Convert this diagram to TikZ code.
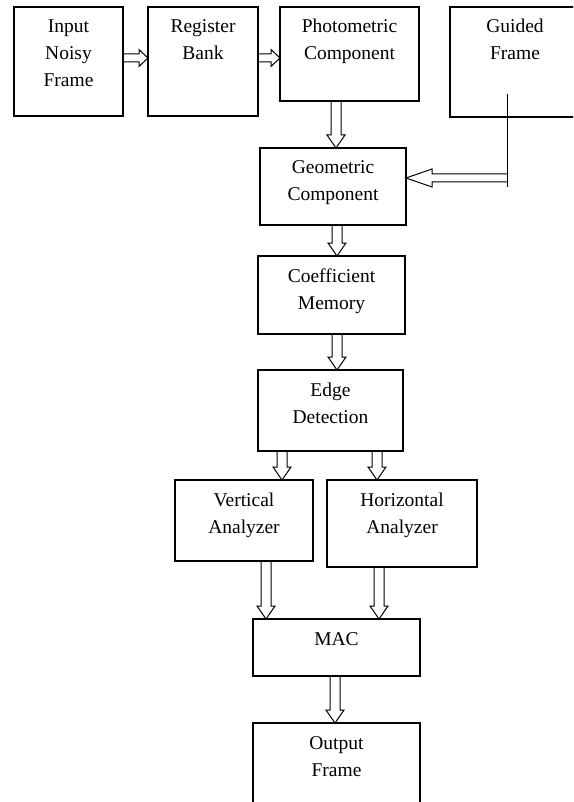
\documentclass[tikz,border=0pt]{standalone}
\usepackage{fontspec}
\setmainfont{Liberation Serif}
\usetikzlibrary{calc}
\newcommand\bxtxt[3]{\parbox[c][#2][t]{#1}{\centering\rule{0pt}{26pt}#3}}
\tikzset{
  blk/.style={draw, line width=1.3pt, inner sep=0pt, outer sep=0pt, anchor=north west,
    font=\fontsize{19.5pt}{27pt}\selectfont},
  arr/.style={line width=1pt},
  hollow/.style n args={3}{to path={
    let \p1=(\tikztostart), \p2=(\tikztotarget),
        \p3=($(\p2)!#3!(\p1)$) in
    ($(\p1)!#1!90:(\p2)$) -- ($(\p3)!#1!90:(\p2)$) -- ($(\p3)!#2!90:(\p2)$) -- (\p2)
    -- ($(\p3)!#2!-90:(\p2)$) -- ($(\p3)!#1!-90:(\p2)$) -- ($(\p1)!#1!-90:(\p2)$)
  }},
  harr/.style={arr, hollow={4pt}{8.5pt}{9pt}},
  varr/.style={arr, hollow={5pt}{9pt}{13pt}}
}
\begin{document}
\begin{tikzpicture}[x=1pt,y=-1pt]
\useasboundingbox (0,0) rectangle (573,802);
\clip (0,0) rectangle (573,802);

\node[blk] (inp) at (14,7)   {\bxtxt{109pt}{109pt}{Input\\Noisy\\Frame}};
\node[blk] (reg) at (148,7)  {\bxtxt{110pt}{109pt}{Register\\Bank}};
\node[blk] (pho) at (280,7)  {\bxtxt{139pt}{94pt}{Photometric\\Component}};
\node[blk] (gui) at (450,7)  {\bxtxt{130pt}{110pt}{Guided\\Frame}};
\node[blk] (geo) at (260,148) {\bxtxt{146pt}{77pt}{Geometric\\Component}};
\node[blk] (coe) at (258,256) {\bxtxt{147pt}{78pt}{Coefficient\\Memory}};
\node[blk] (edg) at (258,370) {\bxtxt{145pt}{81pt}{Edge\\Detection}};
\node[blk] (ver) at (175,480) {\bxtxt{138pt}{81pt}{Vertical\\Analyzer}};
\node[blk] (hor) at (327,480) {\bxtxt{150pt}{87pt}{Horizontal\\Analyzer}};
\node[blk] (mac) at (253,619) {\bxtxt{167pt}{57pt}{MAC}};
\node[blk] (out) at (253,723) {\bxtxt{167pt}{100pt}{Output\\Frame}};

\draw[harr] ([yshift=3.5pt]inp.east) to ([yshift=3.5pt]reg.west);
\draw[harr] ([yshift=3.5pt]reg.east) to ([yshift=-4pt]pho.west);
\draw[varr] ([xshift=-13.5pt]pho.south) to ([xshift=3pt]geo.north);
\draw[varr] ([xshift=4pt]geo.south) to ([xshift=5.5pt]coe.north);
\draw[varr] ([xshift=5.5pt]coe.south) to ([xshift=6.5pt]edg.north);
\draw[varr] ([xshift=-48.5pt]edg.south) to ([xshift=38pt]ver.north);
\draw[varr] ([xshift=46.5pt]edg.south) to ([xshift=-25pt]hor.north);
\draw[varr] ([xshift=22pt]ver.south) to ([xshift=-70.5pt]mac.north);
\draw[varr] ([xshift=-23pt]hor.south) to ([xshift=42.5pt]mac.north);
\draw[varr] ([xshift=-1.5pt]mac.south) to ([xshift=-1.5pt]out.north);

\coordinate (gt) at (507,94);
\coordinate (gb) at (507,187);
\coordinate (gs) at (507,178);
\draw[arr] (gt) -- (gb);
\draw[arr, hollow={4pt}{9pt}{26pt}] (gs) to ([yshift=8.5pt]geo.east);
\end{tikzpicture}
\end{document}
